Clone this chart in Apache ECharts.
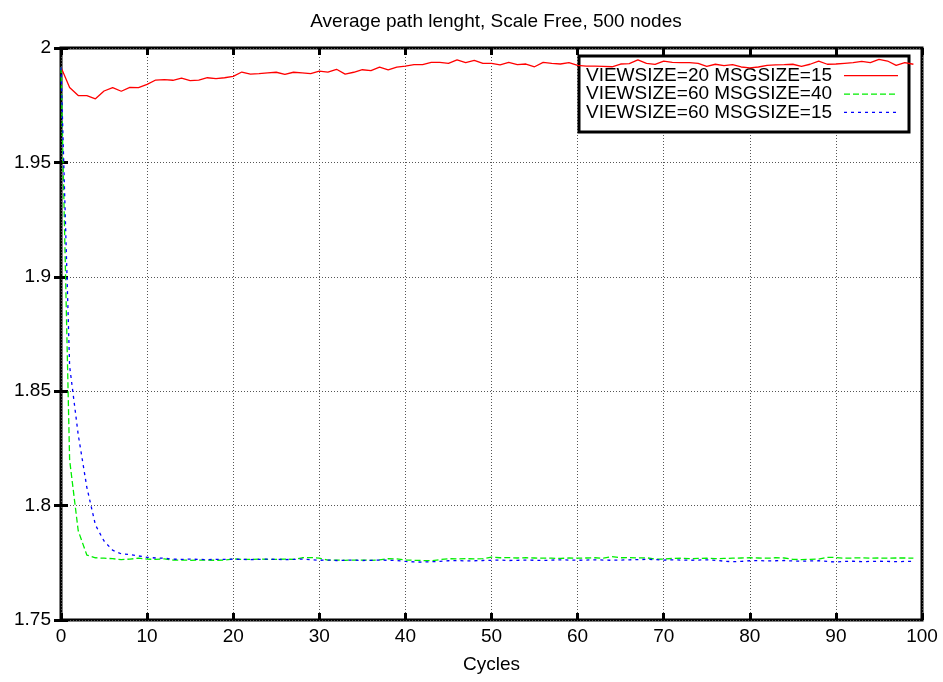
<!DOCTYPE html>
<html>
<head>
<meta charset="utf-8">
<title>Average path lenght, Scale Free, 500 nodes</title>
<script src="https://cdn.jsdelivr.net/npm/echarts@6/dist/echarts.min.js"></script>
<style>
  html, body { margin: 0; padding: 0; background: #fff; }
  #chart { width: 943px; height: 682px; }
</style>
</head>
<body>
<div id="chart"></div>
<script>
// Cycle numbers on the x axis
const cycles = [
  0, 1, 2, 3, 4, 5, 6, 7, 8, 9, 10, 11, 12, 13, 14, 15, 16, 17, 18, 19,
  20, 21, 22, 23, 24, 25, 26, 27, 28, 29, 30, 31, 32, 33, 34, 35, 36, 37, 38, 39,
  40, 41, 42, 43, 44, 45, 46, 47, 48, 49, 50, 51, 52, 53, 54, 55, 56, 57, 58, 59,
  60, 61, 62, 63, 64, 65, 66, 67, 68, 69, 70, 71, 72, 73, 74, 75, 76, 77, 78, 79,
  80, 81, 82, 83, 84, 85, 86, 87, 88, 89, 90, 91, 92, 93, 94, 95, 96, 97, 98, 99
];

// Average path length per cycle, one array per configuration
const view20msg15 = [
  1.9916, 1.9827, 1.9792, 1.9792, 1.9778, 1.9812, 1.9827, 1.9811, 1.9828, 1.9827,
  1.9841, 1.9860, 1.9862, 1.9859, 1.9868, 1.9857, 1.9860, 1.9870, 1.9866, 1.9870,
  1.9876, 1.9895, 1.9886, 1.9888, 1.9891, 1.9894, 1.9885, 1.9894, 1.9891, 1.9888,
  1.9899, 1.9895, 1.9907, 1.9886, 1.9894, 1.9905, 1.9901, 1.9916, 1.9904, 1.9916,
  1.9921, 1.9927, 1.9927, 1.9937, 1.9937, 1.9933, 1.9948, 1.9936, 1.9946, 1.9933,
  1.9933, 1.9926, 1.9937, 1.9927, 1.9930, 1.9918, 1.9937, 1.9933, 1.9930, 1.9936,
  1.9924, 1.9921, 1.9921, 1.9920, 1.9918, 1.9930, 1.9932, 1.9948, 1.9933, 1.9928,
  1.9943, 1.9937, 1.9936, 1.9936, 1.9933, 1.9920, 1.9929, 1.9923, 1.9927, 1.9917,
  1.9913, 1.9917, 1.9924, 1.9926, 1.9927, 1.9929, 1.9920, 1.9929, 1.9943, 1.9929,
  1.9930, 1.9933, 1.9936, 1.9942, 1.9936, 1.9950, 1.9943, 1.9924, 1.9936, 1.9929
];

const view60msg40 = [
  1.9916, 1.8200, 1.7890, 1.7784, 1.7772, 1.7770, 1.7768, 1.7764, 1.7766, 1.7770,
  1.7766, 1.7765, 1.7767, 1.7762, 1.7762, 1.7761, 1.7762, 1.7762, 1.7761, 1.7762,
  1.7767, 1.7765, 1.7765, 1.7766, 1.7765, 1.7765, 1.7766, 1.7765, 1.7772, 1.7773,
  1.7770, 1.7762, 1.7762, 1.7761, 1.7762, 1.7762, 1.7761, 1.7763, 1.7768, 1.7767,
  1.7762, 1.7761, 1.7760, 1.7759, 1.7764, 1.7768, 1.7767, 1.7768, 1.7767, 1.7768,
  1.7775, 1.7772, 1.7773, 1.7771, 1.7772, 1.7771, 1.7770, 1.7770, 1.7769, 1.7771,
  1.7770, 1.7771, 1.7772, 1.7770, 1.7777, 1.7772, 1.7773, 1.7771, 1.7772, 1.7766,
  1.7766, 1.7769, 1.7770, 1.7768, 1.7769, 1.7770, 1.7768, 1.7769, 1.7770, 1.7771,
  1.7772, 1.7771, 1.7770, 1.7772, 1.7771, 1.7765, 1.7764, 1.7765, 1.7766, 1.7774,
  1.7773, 1.7770, 1.7771, 1.7772, 1.7770, 1.7771, 1.7770, 1.7771, 1.7771, 1.7770
];

const view60msg15 = [
  1.9916, 1.8610, 1.8310, 1.8080, 1.7915, 1.7845, 1.7805, 1.7789, 1.7786, 1.7780,
  1.7774, 1.7771, 1.7770, 1.7766, 1.7765, 1.7766, 1.7765, 1.7764, 1.7765, 1.7765,
  1.7766, 1.7765, 1.7764, 1.7765, 1.7766, 1.7765, 1.7764, 1.7765, 1.7766, 1.7764,
  1.7761, 1.7762, 1.7760, 1.7761, 1.7762, 1.7760, 1.7761, 1.7762, 1.7761, 1.7760,
  1.7756, 1.7754, 1.7753, 1.7755, 1.7756, 1.7759, 1.7760, 1.7758, 1.7759, 1.7760,
  1.7761, 1.7762, 1.7760, 1.7761, 1.7762, 1.7761, 1.7760, 1.7762, 1.7763, 1.7762,
  1.7761, 1.7762, 1.7763, 1.7762, 1.7761, 1.7762, 1.7763, 1.7764, 1.7765, 1.7764,
  1.7762, 1.7763, 1.7762, 1.7761, 1.7762, 1.7763, 1.7761, 1.7757, 1.7755, 1.7756,
  1.7759, 1.7760, 1.7758, 1.7759, 1.7760, 1.7758, 1.7757, 1.7758, 1.7759, 1.7756,
  1.7753, 1.7756, 1.7757, 1.7755, 1.7756, 1.7757, 1.7756, 1.7755, 1.7756, 1.7756
];

const seriesNames = [
  'VIEWSIZE=20 MSGSIZE=15',
  'VIEWSIZE=60 MSGSIZE=40',
  'VIEWSIZE=60 MSGSIZE=15'
];
const seriesColors = ['#ff0000', '#00ee00', '#0000ff'];
const seriesDashes = ['solid', [6, 3], [3, 4]];

const FONT = '"Liberation Sans", Arial, Helvetica, sans-serif';
const FONT_SIZE = 19;

const pairs = (ys) => cycles.map((c, i) => [c, ys[i]]);

const chart = echarts.init(document.getElementById('chart'), null, { renderer: 'canvas' });

// Shared look of the boxed frame's inward ticks and dotted grid
const tickStyle = { show: true, inside: true, length: 7, lineStyle: { color: '#000', width: 3 } };
const gridDots = { show: true, lineStyle: { color: '#555', width: 1, type: [1, 2] } };

// Key box in the upper right: text on the left, line sample on the right
const keyBox = { x: 579, y: 56, w: 330, h: 76 };
const keyRowY = [75.7, 94.1, 112.4];
const keyElements = [{
  type: 'rect', z: 1,
  shape: { x: keyBox.x, y: keyBox.y, width: keyBox.w, height: keyBox.h },
  style: { fill: '#fff', stroke: '#000', lineWidth: 3 }
}];
seriesNames.forEach((name, i) => {
  keyElements.push({
    type: 'text', z: 1,
    style: {
      x: 586, y: keyRowY[i], text: name,
      font: FONT_SIZE + 'px ' + FONT, fill: '#000',
      align: 'left', verticalAlign: 'middle'
    }
  });
  keyElements.push({
    type: 'line', z: 1,
    shape: { x1: 844, y1: keyRowY[i], x2: 898, y2: keyRowY[i] },
    style: { stroke: seriesColors[i], lineWidth: 1.3, lineDash: seriesDashes[i] === 'solid' ? null : seriesDashes[i] }
  });
});

const labelStyle = { fontFamily: FONT, fontSize: FONT_SIZE, color: '#000' };

chart.setOption({
  animation: false,
  backgroundColor: '#fff',
  title: {
    text: 'Average path lenght, Scale Free, 500 nodes',
    left: 491,
    top: 7,
    textAlign: 'center',
    textStyle: Object.assign({ fontWeight: 'normal' }, labelStyle)
  },
  grid: {
    left: 61, right: 21, top: 48, bottom: 62,
    show: true, borderColor: '#000', borderWidth: 3, backgroundColor: 'transparent'
  },
  graphic: { elements: keyElements },
  xAxis: [
    {
      type: 'value', min: 0, max: 100, interval: 10,
      name: 'Cycles', nameLocation: 'middle', nameGap: 35,
      nameTextStyle: labelStyle,
      axisLine: { show: false },
      axisTick: tickStyle,
      axisLabel: Object.assign({ margin: 7 }, labelStyle),
      splitLine: gridDots
    },
    {
      type: 'value', position: 'top', min: 0, max: 100, interval: 10,
      axisLine: { show: false }, axisTick: tickStyle,
      axisLabel: { show: false }, splitLine: { show: false }
    }
  ],
  yAxis: [
    {
      type: 'value', min: 1.75, max: 2, interval: 0.05,
      axisLine: { show: false },
      axisTick: tickStyle,
      axisLabel: Object.assign({ margin: 10 }, labelStyle),
      splitLine: gridDots
    },
    {
      type: 'value', position: 'right', min: 1.75, max: 2, interval: 0.05,
      axisLine: { show: false }, axisTick: tickStyle,
      axisLabel: { show: false }, splitLine: { show: false }
    }
  ],
  series: seriesNames.map((name, i) => ({
    name: name,
    type: 'line',
    z: 3,
    symbol: 'none',
    data: pairs([view20msg15, view60msg40, view60msg15][i]),
    lineStyle: { color: seriesColors[i], width: 1.3, type: seriesDashes[i] },
    itemStyle: { color: seriesColors[i] }
  }))
});
</script>
</body>
</html>
